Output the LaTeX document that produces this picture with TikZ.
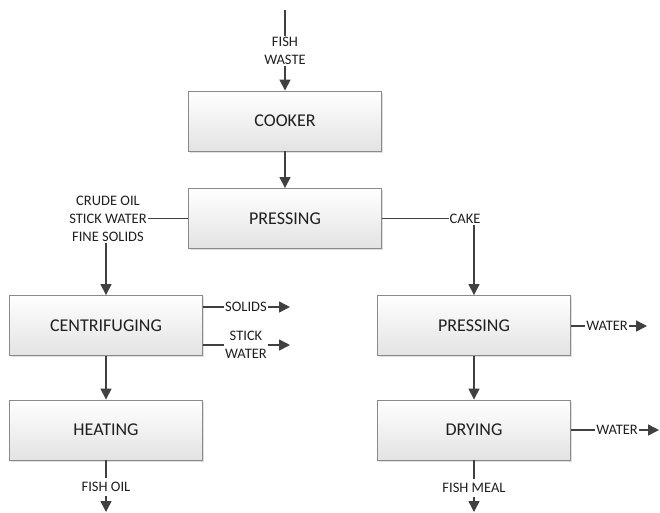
\documentclass[tikz,border=0pt]{standalone}
\usepackage{fontspec}
\setmainfont{Carlito}
\usetikzlibrary{arrows.meta,shadows,calc}
\definecolor{ln}{HTML}{404040}
\definecolor{bx}{HTML}{8A8A8A}
\definecolor{tx}{HTML}{1F1F1F}
\tikzset{
  procbox/.style={draw=bx, line width=0.9pt, top color=white, bottom color=black!11,
    minimum width=193pt, minimum height=60pt, inner sep=0pt,
    font=\fontsize{18}{22}\selectfont, text=tx,
    drop shadow={shadow xshift=1.5pt, shadow yshift=-1.5pt, opacity=0.25}},
  lbl/.style={font=\fontsize{14.5}{18}\selectfont, text=tx, align=center, inner xsep=0.8pt, inner ysep=1.5pt},
  conn/.style={draw=ln, line width=1.5pt},
  arr/.style={conn, -{Triangle[length=11pt,width=11pt]}}
}
\begin{document}
\begin{tikzpicture}[x=1pt,y=-1pt]
\useasboundingbox (0,0) rectangle (660,512);
% boxes
\node[procbox] (cooker) at (285,121) {COOKER};
\node[procbox] (press1) at (285,218.5) {PRESSING};
\node[procbox] (centri) at (106,325.5) {CENTRIFUGING};
\node[procbox] (heat)   at (106,430) {HEATING};
\node[procbox] (press2) at (474,325.5) {PRESSING};
\node[procbox] (dry)    at (474,430) {DRYING};
% labels
\node[lbl] (fw) at (285,51) {FISH\\WASTE};
\node[lbl] (cosf) at (108,218.5) {CRUDE OIL\\STICK WATER\\FINE SOLIDS};
\node[lbl] (cake) at (465,218.5) {CAKE};
\node[lbl] (solids) at (246,307) {SOLIDS};
\node[lbl] (sw) at (246,345) {STICK\\WATER};
\node[lbl] (w1) at (607,326) {WATER};
\node[lbl] (w2) at (617,430) {WATER};
\node[lbl,inner ysep=4pt] (foil) at (106,487) {FISH OIL};
\node[lbl,inner ysep=4pt] (fmeal) at (474,488) {FISH MEAL};
% free ends
\coordinate (top) at (285,10);
\coordinate (solidsend) at (290,307);
\coordinate (swend) at (290,345);
\coordinate (w1end) at (647,326);
\coordinate (w2end) at (659,430);
\coordinate (foilend) at (106,512);
\coordinate (fmealend) at (474,512);
% connectors
\draw[conn] (top) -- (fw.north);
\draw[arr] (fw.south) -- (cooker.north);
\draw[arr] (cooker.south) -- (press1.north);
\draw[conn] (press1.west) -- (cosf.east |- press1.west);
\draw[arr] (cosf.south -| centri.north) -- (centri.north);
\draw[conn] (press1.east) -- (cake.west |- press1.east);
\draw[arr] (cake.south -| press2.north) -- (press2.north);
\draw[conn] (centri.east |- solids) -- (solids.west);
\draw[arr] (solids.east) -- (solidsend);
\draw[conn] (centri.east |- sw) -- (sw.west);
\draw[arr] (sw.east) -- (swend);
\draw[arr] (centri.south) -- (heat.north);
\draw[conn] (press2.east |- w1) -- (w1.west);
\draw[arr] (w1.east) -- (w1end);
\draw[arr] (press2.south) -- (dry.north);
\draw[conn] (dry.east |- w2) -- (w2.west);
\draw[arr] (w2.east) -- (w2end);
\draw[conn] (heat.south) -- (foil.north);
\draw[arr] (foil.south) -- (foilend);
\draw[conn] (dry.south) -- (fmeal.north);
\draw[arr] (fmeal.south) -- (fmealend);
\end{tikzpicture}
\end{document}
